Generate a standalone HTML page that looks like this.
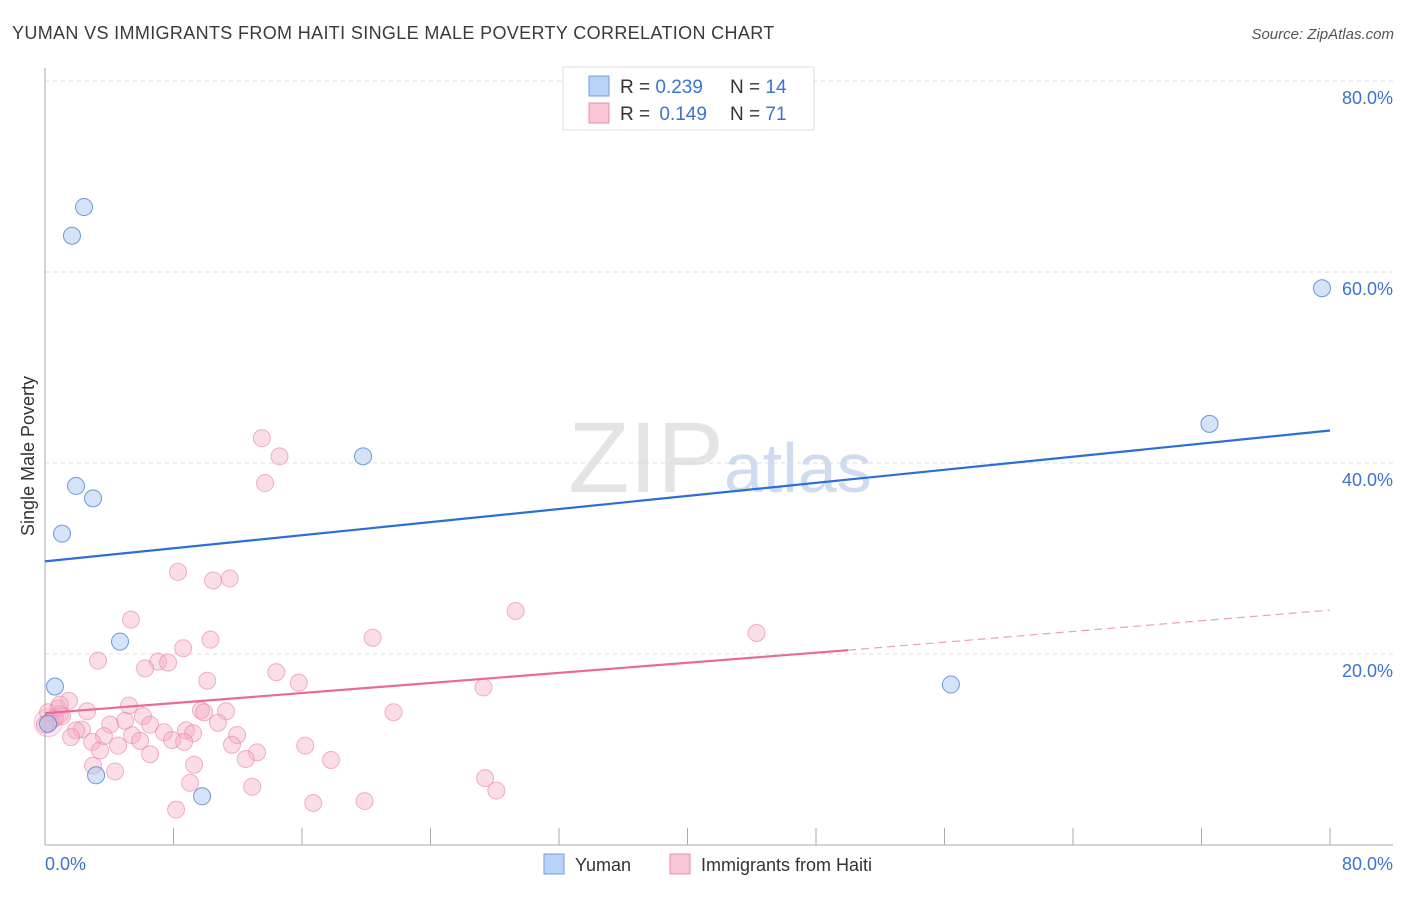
<!DOCTYPE html>
<html><head><meta charset="utf-8"><style>
body{margin:0;background:#fff;font-family:"Liberation Sans",sans-serif;}
svg text{font-family:"Liberation Sans",sans-serif;}
</style></head><body>
<svg id="chart" width="1406" height="892" xmlns="http://www.w3.org/2000/svg">
<text x="12" y="39" font-size="18" letter-spacing="0.35" fill="#3a3a3a">YUMAN VS IMMIGRANTS FROM HAITI SINGLE MALE POVERTY CORRELATION CHART</text>
<text x="1394" y="39" font-size="15" fill="#555" text-anchor="end" font-style="italic">Source: ZipAtlas.com</text>
<text x="720" y="492" font-size="100" text-anchor="middle" fill="#e4e4e4" font-family="Liberation Serif,serif">ZIP<tspan fill="#cfdcf0" font-family="Liberation Sans,sans-serif" font-size="70">atlas</tspan></text>
<g id="grid"></g>
<g id="axes"></g>
<g id="marks"></g>
<text transform="translate(34,456) rotate(-90)" font-size="18" fill="#333" text-anchor="middle">Single Male Poverty</text>
<g>
<rect x="563" y="67" width="251" height="63" fill="#fff" stroke="#ddd"/>
<rect x="589" y="76" width="20" height="20" fill="#b8d3f5" stroke="#6f9fe0"/>
<rect x="589" y="103" width="20" height="20" fill="#f9c6d6" stroke="#eb8fab"/>
<text x="620" y="93" font-size="19" fill="#333">R = <tspan fill="#3b73d0">0.239</tspan></text>
<text x="730" y="93" font-size="19" fill="#333">N = <tspan fill="#3b73d0">14</tspan></text>
<text x="620" y="120" font-size="19" fill="#333">R = <tspan fill="#3b73d0" dx="4">0.149</tspan></text>
<text x="730" y="120" font-size="19" fill="#333">N = <tspan fill="#3b73d0">71</tspan></text>
</g>
<g>
<rect x="544" y="854" width="20" height="20" fill="#b8d3f5" stroke="#6f9fe0"/>
<text x="575" y="871" font-size="18" fill="#333">Yuman</text>
<rect x="670" y="854" width="20" height="20" fill="#f9c6d6" stroke="#eb8fab"/>
<text x="701" y="871" font-size="18" fill="#333">Immigrants from Haiti</text>
</g>
</svg>
<script>
const yumanX=[2.43,1.68,1.93,2.99,1.06,19.8,72.5,79.5,4.67,0.62,56.4,3.18,9.78,0.19];
const yumanY=[66.8,63.8,37.6,36.3,32.6,40.7,44.1,58.3,21.3,16.6,16.8,7.3,5.1,12.7];
const haitiX=[13.5,14.6,13.7,8.28,10.46,11.5,5.35,29.3,44.3,10.3,8.6,20.4,3.3,7.04,7.66,6.23,14.4,15.8,10.1,27.3,1.49,5.23,0.81,0.93,2.62,6.1,9.71,11.27,9.9,21.7,4.98,4.05,6.54,7.41,8.78,9.22,2.3,1.93,1.62,3.67,5.42,10.77,11.96,7.91,8.66,2.93,4.55,3.42,5.92,11.64,13.2,16.2,6.54,12.5,2.99,9.28,17.8,4.36,9.03,27.4,12.9,28.1,16.7,19.9,8.16,0.19,0.62,0.31,0.0,1.06,0.93];
const haitiY=[42.6,40.7,37.9,28.6,27.7,27.9,23.6,24.5,22.2,21.5,20.6,21.7,19.3,19.2,19.1,18.5,18.1,17.0,17.2,16.5,15.1,14.6,14.3,13.7,14.0,13.5,14.1,14.0,13.9,13.9,13.0,12.6,12.6,11.8,12.0,11.7,12.1,12.0,11.3,11.4,11.5,12.8,11.5,11.0,10.8,10.8,10.4,9.9,10.9,10.5,9.7,10.4,9.5,9.0,8.3,8.4,8.9,7.7,6.5,7.0,6.1,5.7,4.4,4.6,3.7,13.9,13.3,12.9,12.6,13.5,14.7];
const yTicks=[20,40,60,80];
const yTickLabels=["20.0%","40.0%","60.0%","80.0%"];
const yumanTrend=[29.7,43.4];
const haitiTrend=[13.8,20.4,24.6];
const haitiSolidEnd=50;
const NS="http://www.w3.org/2000/svg";
const X=v=>45+v*(1330-45)/80;
const Y=v=>845-v*(845-81)/80;
function mk(tag,attrs,parent){const e=document.createElementNS(NS,tag);for(const k in attrs)e.setAttribute(k,attrs[k]);parent.appendChild(e);return e;}
const grid=document.getElementById('grid'),axes=document.getElementById('axes'),marks=document.getElementById('marks');
yTicks.forEach((t,i)=>{
 const l=mk('line',{x1:45,x2:1393,y1:Y(t),y2:Y(t),stroke:'#ddd','stroke-dasharray':'4,4'},grid);
 
 
 const tx=mk('text',{x:1393,y:Y(t)+23,'font-size':18,fill:'#3b73d0','text-anchor':'end'},axes);
 tx.textContent=yTickLabels[i];
 
 
});
const ax=mk('line',{x1:45,x2:45,y1:68,y2:845,stroke:'#aaa'},axes);


const bx=mk('line',{x1:45,x2:1393,y1:845,y2:845,stroke:'#aaa'},axes);


for(let v=0;v<=80;v+=8){
 const t=mk('line',{x1:X(v),x2:X(v),y1:828,y2:845,stroke:'#aaa'},axes);
 
 
}
const xl0=mk('text',{x:45,y:870,'font-size':18,fill:'#3b73d0'},axes);xl0.textContent='0.0%';


const xl1=mk('text',{x:1393,y:870,'font-size':18,fill:'#3b73d0','text-anchor':'end'},axes);xl1.textContent='80.0%';


const big=mk('circle',{cx:X(0.2),cy:Y(12.8),r:14,fill:'rgba(244,160,188,0.25)',stroke:'rgba(230,130,165,0.4)'},marks);


haitiX.forEach((x,i)=>{
 const c=mk('circle',{cx:X(x),cy:Y(haitiY[i]),r:8.5,fill:'rgba(246,170,196,0.4)',stroke:'rgba(232,130,165,0.6)','stroke-width':1},marks);
 
 
});
yumanX.forEach((x,i)=>{
 const c=mk('circle',{cx:X(x),cy:Y(yumanY[i]),r:8.5,fill:'rgba(170,200,240,0.5)',stroke:'rgba(80,130,210,0.8)','stroke-width':1},marks);
 
 
});
const bt=mk('line',{x1:X(0),y1:Y(yumanTrend[0]),x2:X(80),y2:Y(yumanTrend[1]),stroke:'#2a6fd6','stroke-width':2.2},marks);


const pt=mk('line',{x1:X(0),y1:Y(haitiTrend[0]),x2:X(haitiSolidEnd),y2:Y(haitiTrend[1]),stroke:'#e8699a','stroke-width':2.2},marks);


const pd=mk('line',{x1:X(haitiSolidEnd),y1:Y(haitiTrend[1]),x2:X(80),y2:Y(haitiTrend[2]),stroke:'#eaa0bb','stroke-width':1.2,'stroke-dasharray':'8,5'},marks);


</script>
</body></html>
